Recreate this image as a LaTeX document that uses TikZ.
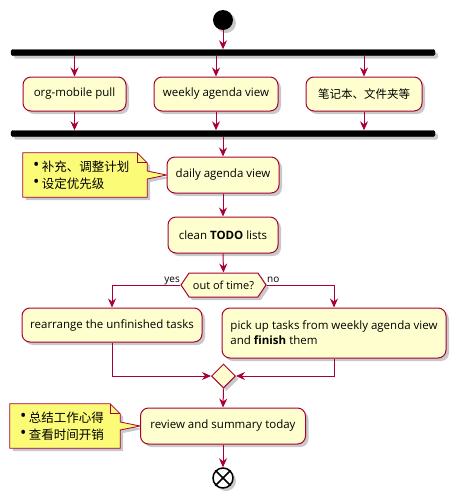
\documentclass[tikz,border=0pt]{standalone}
\usepackage{fontspec}
\setmainfont{Open Sans}
\newfontfamily\cjk{Noto Sans CJK SC}
\usetikzlibrary{arrows.meta,shapes.geometric,shapes.symbols,shadows,calc,backgrounds}

\definecolor{actfill}{HTML}{FEFECE}
\definecolor{actline}{HTML}{A80036}
\definecolor{notefill}{HTML}{FBFB77}

\newcommand\zhtext[1]{{\cjk #1}}
\newcommand\notebullet{\raisebox{0.05em}{\scalebox{1.35}{•}}\hspace{0.2em}}

\begin{document}
\begin{tikzpicture}[x=1pt,y=-1pt,
  dshadow/.style={drop shadow={shadow xshift=3pt,shadow yshift=-3pt,opacity=0.3,fill=black!70}},
  act/.style={draw=actline, fill=actfill, line width=1pt, rounded corners=8pt,
    inner sep=0pt, dshadow, font=\fontsize{11.5}{15}\selectfont},
  forkbar/.style={fill=black, draw=black, inner sep=0pt, minimum height=6pt,
    rounded corners=1.5pt, dshadow},
  flowarrow/.style={draw=actline, line width=1pt,
    -{Stealth[length=9pt,width=8pt,inset=3pt]}},
  decision/.style={signal, signal to=east and west, draw=actline, fill=actfill,
    line width=1pt, inner sep=0pt, dshadow, font=\fontsize{11}{13}\selectfont},
  merge/.style={diamond, draw=actline, fill=actfill, line width=1pt, inner sep=0pt,
    minimum width=24pt, minimum height=24pt, dshadow},
  notebox/.style={inner xsep=10pt, inner ysep=0pt, align=left,
    font=\fontsize{12.5}{17}\selectfont},
  noteshape/.style={draw=actline, fill=notefill, line width=0.8pt, dshadow},
  lbl/.style={font=\fontsize{10}{12}\selectfont, inner sep=0pt},
]
\useasboundingbox (0,0) rectangle (457,499);

% start and fork
\node[circle, fill=black, minimum size=20pt, inner sep=0pt, dshadow] (start) at (223,20) {};
\node[forkbar, minimum width=424pt] (fork) at (223,52.5) {};

% parallel activities
\node[act, minimum width=103pt, minimum height=34pt] (pull) at (74.5,94) {org-mobile pull};
\node[act, minimum width=124pt, minimum height=34pt] (weekly) at (216,94) {weekly agenda view};
\node[act, minimum width=116pt, minimum height=34pt] (notes) at (364,94) {\zhtext{笔记本、文件夹等}};

\node[forkbar, minimum width=424pt] (join) at (223,133.5) {};

% main line
\node[act, minimum width=112pt, minimum height=36pt] (daily) at (223,175) {daily agenda view};
\node[act, minimum width=110pt, minimum height=36pt] (clean) at (223,235) {clean \textbf{TODO} lists};
\node[decision, minimum width=85pt, minimum height=24pt, signal pointer angle=112] (dec) at (223.5,285) {out of time?};

\node[act, minimum width=180pt, minimum height=34pt] (rearr) at (112,325) {rearrange the unfinished tasks};
\node[act, minimum width=224pt, minimum height=50pt, align=left] (pick) at (334,333)
  {pick up tasks from weekly agenda view\\and \textbf{finish} them};

\node[merge] (mrg) at (223.5,376) {};
\node[act, minimum width=165pt, minimum height=36pt] (review) at (223,426) {review and summary today};

\node[circle, draw=black, fill=white, line width=1.5pt, minimum size=20pt, inner sep=0pt, dshadow] (stop) at (223,478) {};
\draw[line width=1.5pt] (stop.north west) -- (stop.south east);
\draw[line width=1.5pt] (stop.north east) -- (stop.south west);

% branch labels
\node[lbl, anchor=base east] (yes) at (180,282) {yes};
\node[lbl, anchor=base west] (no) at (267,282) {no};

% connectors
\draw[flowarrow] (start.south) -- (fork.north);
\draw[flowarrow] (fork.south -| pull.north) -- (pull.north);
\draw[flowarrow] (fork.south -| weekly.north) -- (weekly.north);
\draw[flowarrow] (fork.south -| notes.north) -- (notes.north);
\draw[flowarrow] (pull.south) -- (pull.south |- join.north);
\draw[flowarrow] (weekly.south) -- (weekly.south |- join.north);
\draw[flowarrow] (notes.south) -- (notes.south |- join.north);
\draw[flowarrow] (join.south) -- (daily.north);
\draw[flowarrow] (daily.south) -- (clean.north);
\draw[flowarrow] (clean.south) -- (dec.north);
\draw[flowarrow] (dec.west) -| (rearr.north);
\draw[flowarrow] (dec.east) -| (pick.north);
\draw[flowarrow] (rearr.south) |- (mrg.west);
\draw[flowarrow] (pick.south) |- (mrg.east);
\draw[flowarrow] (mrg.south) -- (review.north);
\draw[flowarrow] (review.south) -- (stop.north);

% notes: text first, outline with folded corner and pointer behind it
\node[notebox, text width=104pt, minimum height=44pt] (n1) at (85,175)
  {\notebullet\zhtext{补充、调整计划}\\\notebullet\zhtext{设定优先级}};
\node[notebox, text width=90pt, minimum height=44pt] (n2) at (65,426)
  {\notebullet\zhtext{总结工作心得}\\\notebullet\zhtext{查看时间开销}};

\begin{pgfonlayer}{background}
\path[noteshape] (n1.north west) -- ($(n1.north east)+(-10,0)$) -- ($(n1.north east)+(0,10)$)
  -- ($(n1.east)+(0,-4)$) -- (daily.west) -- ($(n1.east)+(0,4)$)
  -- (n1.south east) -- (n1.south west) -- cycle;
\draw[actline, line width=0.8pt] ($(n1.north east)+(-10,0)$) -- ($(n1.north east)+(-10,10)$) -- ($(n1.north east)+(0,10)$);
\path[noteshape] (n2.north west) -- ($(n2.north east)+(-10,0)$) -- ($(n2.north east)+(0,10)$)
  -- ($(n2.east)+(0,-4)$) -- (review.west) -- ($(n2.east)+(0,4)$)
  -- (n2.south east) -- (n2.south west) -- cycle;
\draw[actline, line width=0.8pt] ($(n2.north east)+(-10,0)$) -- ($(n2.north east)+(-10,10)$) -- ($(n2.north east)+(0,10)$);
\end{pgfonlayer}
\end{tikzpicture}
\end{document}
